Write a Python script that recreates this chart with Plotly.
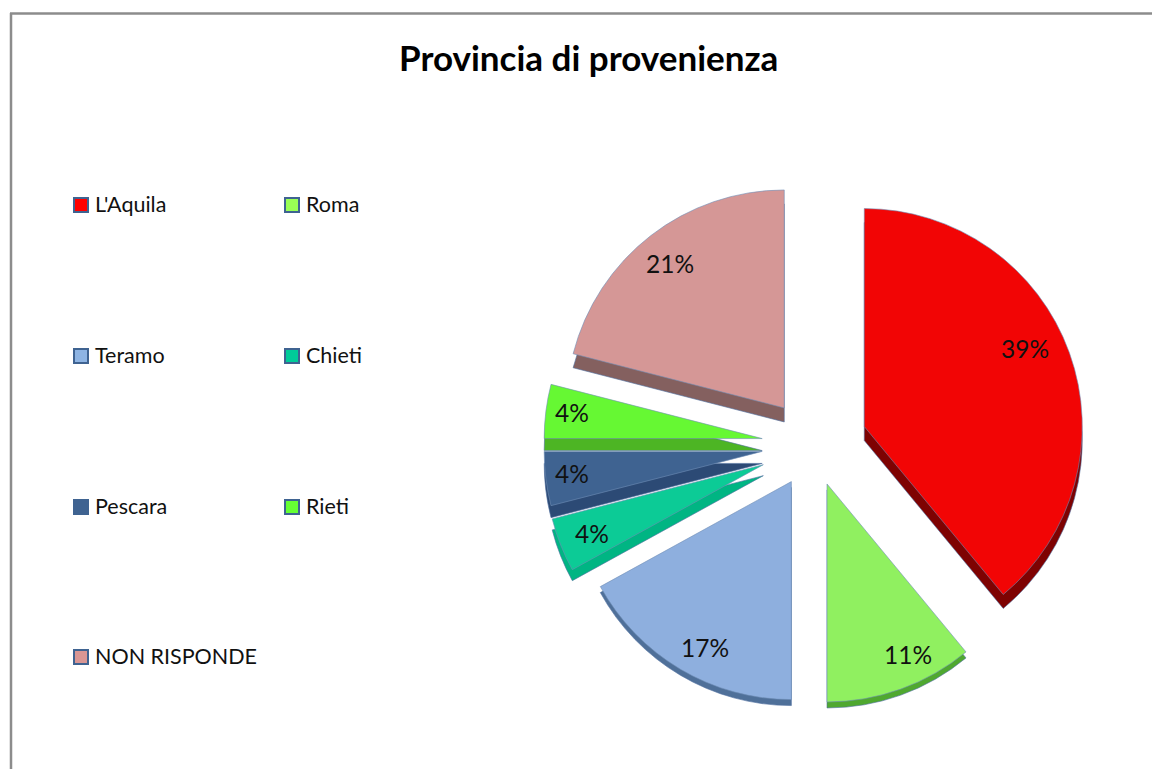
import math
import plotly.graph_objects as go

W, H = 1152, 769
title = "Provincia di provenienza"
categories = ["L'Aquila", "Roma", "Teramo", "Chieti", "Pescara", "Rieti", "NON RISPONDE"]
values = [39, 11, 17, 4, 4, 4, 21]
colors = ["#F20505", "#90F060", "#8EAFDE", "#0CCB96", "#3F6391", "#66F833", "#D59796"]
depth_colors = ["#7E0202", "#4FA82F", "#4F7099", "#00B583", "#2C4A75", "#4DB524", "#84605F"]
swatch_colors = ["#FF0000", "#99FF55", "#8EB4E3", "#00CC99", "#3F6391", "#66FF33", "#D99694"]
pull = [0.25, 0.19, 0.195, 0.245, 0.235, 0.235, 0.215]
slice_depth = [14, 6, 6, 11, 12, 12, 14]
label_shift = [(-14, -15), (18, -4), (8, 6), (1, 1), (-6, -1), (-6, -3), (-1, 2)]
legend_x = [81, 292]
legend_y = [205, 356, 507, 657]

def px(x):
    return x / W

def py(y):
    return 1 - y / H

cx, cy, half = 813, 445, 272.5
radius = half / (1 + max(pull))
label_frac = 0.85
CLEAR = "rgba(0,0,0,0)"

fig = go.Figure()
for d in sorted(set(slice_depth)):
    fig.add_trace(go.Pie(
        labels=categories, values=values, sort=False, direction="clockwise", rotation=0,
        pull=pull, textinfo="none", hoverinfo="skip", showlegend=False,
        marker=dict(colors=[c if s == d else CLEAR for c, s in zip(depth_colors, slice_depth)],
                    line=dict(color=["#4F6F9F" if s == d else CLEAR for s in slice_depth], width=0.6)),
        domain=dict(x=[px(cx - half), px(cx + half)], y=[py(cy + d + half), py(cy + d - half)]),
    ))
fig.add_trace(go.Pie(
    labels=categories, values=values, sort=False, direction="clockwise", rotation=0,
    pull=pull, textinfo="none", showlegend=False,
    marker=dict(colors=colors, line=dict(color="#6F8DB5", width=0.6)),
    domain=dict(x=[px(cx - half), px(cx + half)], y=[py(cy + half), py(cy - half)]),
))

shapes = [dict(type="line", xref="paper", yref="paper", x0=px(11), x1=px(11), y0=0, y1=py(13),
               line=dict(color="#8C8C8C", width=2.5)),
          dict(type="line", xref="paper", yref="paper", x0=px(10), x1=1, y0=py(13.5), y1=py(13.5),
               line=dict(color="#8C8C8C", width=2.5))]
annotations = [dict(text="<b>" + title + "</b>", xref="paper", yref="paper", x=px(588), y=py(57),
                    xanchor="center", yanchor="middle", showarrow=False,
                    font=dict(family="Lato", size=35, color="#000000"))]
for i, cat in enumerate(categories):
    x = legend_x[i % 2]
    y = legend_y[i // 2]
    shapes.append(dict(type="rect", xref="paper", yref="paper", x0=px(x - 7), x1=px(x + 7),
                       y0=py(y + 7), y1=py(y - 7), fillcolor=swatch_colors[i],
                       line=dict(color="#3F6391", width=2)))
    annotations.append(dict(text=cat, xref="paper", yref="paper", x=px(x + 12), y=py(y - 1),
                            xanchor="left", yanchor="middle", showarrow=False,
                            font=dict(family="Lato", size=21.5, color="#111111")))

total = sum(values)
cum = 0
for v, p, (dx, dy) in zip(values, pull, label_shift):
    ang = 2 * math.pi * (cum + v / 2) / total
    cum += v
    dist = (p + label_frac) * radius
    annotations.append(dict(text=f"{round(100 * v / total)}%", xref="paper", yref="paper",
                            x=px(cx + dist * math.sin(ang) + dx), y=py(cy - dist * math.cos(ang) + dy),
                            xanchor="center", yanchor="middle", showarrow=False,
                            font=dict(family="Lato", size=24.5, color="#111111")))

fig.update_layout(width=W, height=H, margin=dict(l=0, r=0, t=0, b=0), paper_bgcolor="white",
                  shapes=shapes, annotations=annotations)
fig.write_html("out.html", post_script="document.body.style.margin='0';",
               config=dict(displayModeBar=False))
